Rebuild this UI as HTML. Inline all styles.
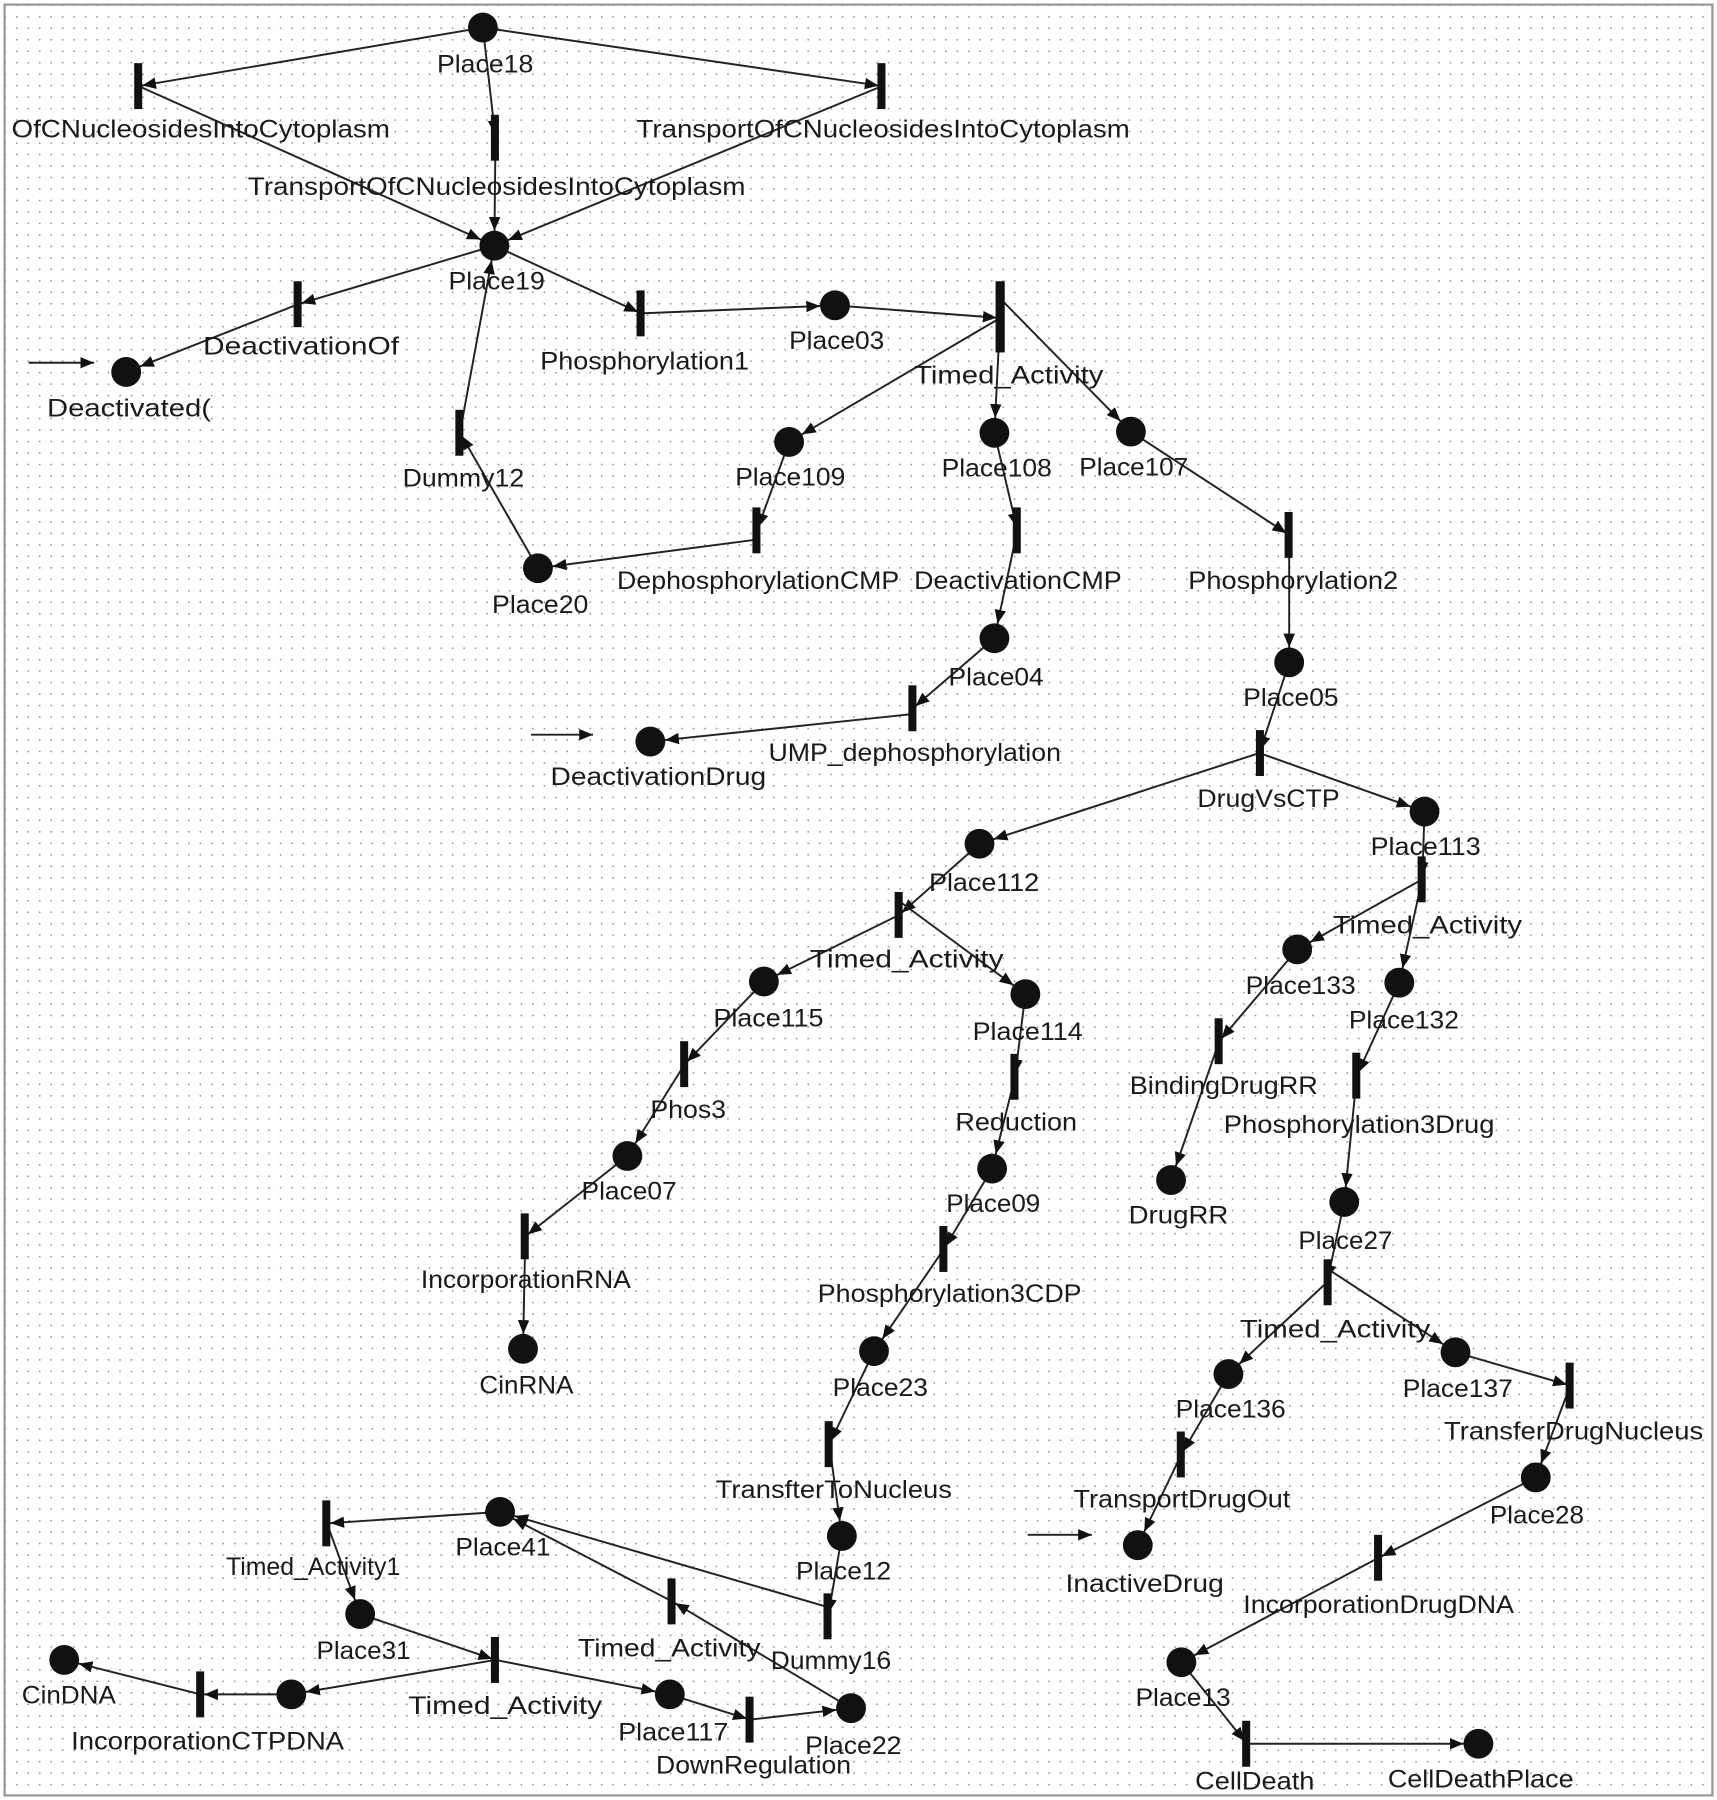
<!DOCTYPE html>
<html><head><meta charset="utf-8"><style>
html,body{margin:0;padding:0;background:#fff;}
svg{display:block}
text{font-family:"Liberation Sans",sans-serif;font-size:22px;fill:#1a1a1a}
</style></head><body>
<svg width="1717" height="1800" viewBox="0 0 1497 1568" preserveAspectRatio="none" xmlns="http://www.w3.org/2000/svg">
<defs>
<pattern id="dots" width="10" height="10" patternUnits="userSpaceOnUse"><rect x="4" y="4" width="1.3" height="1.3" fill="#888"/></pattern>
<marker id="ap" markerUnits="userSpaceOnUse" markerWidth="14" markerHeight="12" refX="25" refY="5" orient="auto"><path d="M0,0 L12,5 L0,10 z" fill="#111"/></marker>
<marker id="at" markerUnits="userSpaceOnUse" markerWidth="14" markerHeight="12" refX="15" refY="5" orient="auto"><path d="M0,0 L12,5 L0,10 z" fill="#111"/></marker>
<marker id="a0" markerUnits="userSpaceOnUse" markerWidth="14" markerHeight="12" refX="12" refY="5" orient="auto"><path d="M0,0 L12,5 L0,10 z" fill="#111"/></marker>
</defs>
<rect x="0" y="0" width="1497" height="1568" fill="#fff"/>
<rect x="4" y="4" width="1489" height="1560" fill="url(#dots)" stroke="#999" stroke-width="2"/>
<g stroke="#222" stroke-width="1.7" fill="none">
<line x1="421" y1="24" x2="121" y2="75" marker-end="url(#at)"/>
<line x1="421" y1="24" x2="769" y2="75" marker-end="url(#at)"/>
<line x1="421" y1="24" x2="432" y2="120" marker-end="url(#at)"/>
<line x1="121" y1="75" x2="431" y2="214" marker-end="url(#ap)"/>
<line x1="769" y1="75" x2="431" y2="214" marker-end="url(#ap)"/>
<line x1="432" y1="120" x2="431" y2="214" marker-end="url(#ap)"/>
<line x1="431" y1="214" x2="260" y2="265" marker-end="url(#at)"/>
<line x1="260" y1="265" x2="110" y2="324" marker-end="url(#ap)"/>
<line x1="431" y1="214" x2="559" y2="273" marker-end="url(#at)"/>
<line x1="559" y1="273" x2="728" y2="266" marker-end="url(#ap)"/>
<line x1="728" y1="266" x2="872" y2="277" marker-end="url(#at)"/>
<line x1="872" y1="277" x2="688" y2="385" marker-end="url(#ap)"/>
<line x1="872" y1="277" x2="867" y2="377" marker-end="url(#ap)"/>
<line x1="872" y1="260" x2="986" y2="376" marker-end="url(#ap)"/>
<line x1="469" y1="495" x2="401" y2="377" marker-end="url(#at)"/>
<line x1="401" y1="377" x2="431" y2="214" marker-end="url(#ap)"/>
<line x1="688" y1="385" x2="660" y2="462" marker-end="url(#at)"/>
<line x1="660" y1="470" x2="469" y2="495" marker-end="url(#ap)"/>
<line x1="867" y1="377" x2="887" y2="462" marker-end="url(#at)"/>
<line x1="887" y1="462" x2="867" y2="556" marker-end="url(#ap)"/>
<line x1="867" y1="556" x2="796" y2="617" marker-end="url(#at)"/>
<line x1="796" y1="622" x2="567" y2="646" marker-end="url(#ap)"/>
<line x1="986" y1="376" x2="1124" y2="466" marker-end="url(#at)"/>
<line x1="1124" y1="466" x2="1124" y2="577" marker-end="url(#ap)"/>
<line x1="1124" y1="577" x2="1098" y2="656" marker-end="url(#at)"/>
<line x1="1098" y1="656" x2="854" y2="735" marker-end="url(#ap)"/>
<line x1="1098" y1="656" x2="1242" y2="707" marker-end="url(#ap)"/>
<line x1="1242" y1="707" x2="1240" y2="766" marker-end="url(#at)"/>
<line x1="1240" y1="766" x2="1131" y2="827" marker-end="url(#ap)"/>
<line x1="1240" y1="766" x2="1220" y2="856" marker-end="url(#ap)"/>
<line x1="854" y1="735" x2="784" y2="797" marker-end="url(#at)"/>
<line x1="784" y1="797" x2="666" y2="855" marker-end="url(#ap)"/>
<line x1="784" y1="785" x2="894" y2="866" marker-end="url(#ap)"/>
<line x1="666" y1="855" x2="597" y2="927" marker-end="url(#at)"/>
<line x1="597" y1="927" x2="547" y2="1007" marker-end="url(#ap)"/>
<line x1="547" y1="1007" x2="458" y2="1077" marker-end="url(#at)"/>
<line x1="458" y1="1077" x2="456" y2="1175" marker-end="url(#ap)"/>
<line x1="894" y1="866" x2="885" y2="938" marker-end="url(#at)"/>
<line x1="885" y1="938" x2="865" y2="1018" marker-end="url(#ap)"/>
<line x1="865" y1="1018" x2="823" y2="1088" marker-end="url(#at)"/>
<line x1="823" y1="1088" x2="762" y2="1177" marker-end="url(#ap)"/>
<line x1="762" y1="1177" x2="723" y2="1258" marker-end="url(#at)"/>
<line x1="723" y1="1258" x2="734" y2="1338" marker-end="url(#ap)"/>
<line x1="734" y1="1338" x2="722" y2="1408" marker-end="url(#at)"/>
<line x1="722" y1="1400" x2="436" y2="1317" marker-end="url(#ap)"/>
<line x1="1131" y1="827" x2="1063" y2="907" marker-end="url(#at)"/>
<line x1="1063" y1="907" x2="1021" y2="1028" marker-end="url(#ap)"/>
<line x1="1220" y1="856" x2="1183" y2="937" marker-end="url(#at)"/>
<line x1="1183" y1="937" x2="1172" y2="1047" marker-end="url(#ap)"/>
<line x1="1172" y1="1047" x2="1157" y2="1117" marker-end="url(#at)"/>
<line x1="1157" y1="1117" x2="1071" y2="1197" marker-end="url(#ap)"/>
<line x1="1157" y1="1105" x2="1269" y2="1178" marker-end="url(#ap)"/>
<line x1="1269" y1="1178" x2="1369" y2="1207" marker-end="url(#at)"/>
<line x1="1369" y1="1207" x2="1339" y2="1287" marker-end="url(#ap)"/>
<line x1="1339" y1="1287" x2="1202" y2="1357" marker-end="url(#at)"/>
<line x1="1202" y1="1357" x2="1030" y2="1448" marker-end="url(#ap)"/>
<line x1="1030" y1="1448" x2="1087" y2="1519" marker-end="url(#at)"/>
<line x1="1087" y1="1519" x2="1289" y2="1519" marker-end="url(#ap)"/>
<line x1="1071" y1="1197" x2="1030" y2="1267" marker-end="url(#at)"/>
<line x1="1030" y1="1267" x2="992" y2="1346" marker-end="url(#ap)"/>
<line x1="436" y1="1317" x2="285" y2="1327" marker-end="url(#at)"/>
<line x1="285" y1="1327" x2="314" y2="1406" marker-end="url(#ap)"/>
<line x1="314" y1="1406" x2="432" y2="1446" marker-end="url(#at)"/>
<line x1="432" y1="1446" x2="254" y2="1476" marker-end="url(#ap)"/>
<line x1="432" y1="1446" x2="584" y2="1476" marker-end="url(#ap)"/>
<line x1="254" y1="1476" x2="175" y2="1476" marker-end="url(#at)"/>
<line x1="175" y1="1476" x2="56" y2="1446" marker-end="url(#ap)"/>
<line x1="584" y1="1476" x2="654" y2="1498" marker-end="url(#at)"/>
<line x1="654" y1="1498" x2="742" y2="1488" marker-end="url(#ap)"/>
<line x1="742" y1="1488" x2="586" y2="1395" marker-end="url(#at)"/>
<line x1="586" y1="1395" x2="436" y2="1317" marker-end="url(#ap)"/>
<line x1="25" y1="316" x2="82" y2="316" marker-end="url(#a0)"/>
<line x1="463" y1="640" x2="517" y2="640" marker-end="url(#a0)"/>
<line x1="896" y1="1337" x2="952" y2="1337" marker-end="url(#a0)"/>
</g>
<g fill="#111">
<circle cx="421" cy="24" r="13"/><circle cx="431" cy="214" r="13"/><circle cx="110" cy="324" r="13"/>
<circle cx="728" cy="266" r="13"/><circle cx="688" cy="385" r="13"/><circle cx="867" cy="377" r="13"/>
<circle cx="986" cy="376" r="13"/><circle cx="469" cy="495" r="13"/><circle cx="867" cy="556" r="13"/>
<circle cx="1124" cy="577" r="13"/><circle cx="567" cy="646" r="13"/><circle cx="1242" cy="707" r="13"/>
<circle cx="854" cy="735" r="13"/><circle cx="666" cy="855" r="13"/><circle cx="894" cy="866" r="13"/>
<circle cx="1131" cy="827" r="13"/><circle cx="1220" cy="856" r="13"/><circle cx="547" cy="1007" r="13"/>
<circle cx="865" cy="1018" r="13"/><circle cx="1021" cy="1028" r="13"/><circle cx="1172" cy="1047" r="13"/>
<circle cx="456" cy="1175" r="13"/><circle cx="762" cy="1177" r="13"/><circle cx="1071" cy="1197" r="13"/>
<circle cx="1269" cy="1178" r="13"/><circle cx="1339" cy="1287" r="13"/><circle cx="436" cy="1317" r="13"/>
<circle cx="734" cy="1338" r="13"/><circle cx="992" cy="1346" r="13"/><circle cx="314" cy="1406" r="13"/>
<circle cx="56" cy="1446" r="13"/><circle cx="1030" cy="1448" r="13"/><circle cx="254" cy="1476" r="13"/>
<circle cx="584" cy="1476" r="13"/><circle cx="742" cy="1488" r="13"/><circle cx="1289" cy="1519" r="13"/>
<rect x="117" y="55" width="7" height="40"/><rect x="765" y="55" width="7" height="40"/><rect x="428" y="100" width="7" height="40"/>
<rect x="256" y="245" width="7" height="40"/><rect x="555" y="253" width="7" height="40"/><rect x="868" y="245" width="8" height="62"/>
<rect x="397" y="357" width="7" height="40"/><rect x="656" y="442" width="7" height="40"/><rect x="883" y="442" width="7" height="40"/>
<rect x="1120" y="446" width="7" height="40"/><rect x="792" y="597" width="7" height="40"/><rect x="1095" y="636" width="7" height="40"/>
<rect x="1236" y="746" width="7" height="40"/><rect x="780" y="777" width="7" height="40"/><rect x="593" y="907" width="7" height="40"/>
<rect x="881" y="918" width="7" height="40"/><rect x="1059" y="887" width="7" height="40"/><rect x="1179" y="917" width="7" height="40"/>
<rect x="454" y="1057" width="7" height="40"/><rect x="819" y="1068" width="7" height="40"/><rect x="1154" y="1097" width="7" height="40"/>
<rect x="1365" y="1187" width="7" height="40"/><rect x="1026" y="1247" width="7" height="40"/><rect x="719" y="1238" width="7" height="40"/>
<rect x="281" y="1307" width="7" height="40"/><rect x="718" y="1388" width="7" height="40"/><rect x="582" y="1375" width="7" height="40"/>
<rect x="1198" y="1337" width="7" height="40"/><rect x="428" y="1426" width="7" height="40"/><rect x="171" y="1456" width="7" height="40"/>
<rect x="650" y="1478" width="7" height="40"/><rect x="1083" y="1499" width="7" height="40"/>
</g>
<g>
<text x="381" y="63" textLength="84" lengthAdjust="spacingAndGlyphs">Place18</text>
<text x="10" y="120" textLength="330" lengthAdjust="spacingAndGlyphs">OfCNucleosidesIntoCytoplasm</text>
<text x="555" y="120" textLength="430" lengthAdjust="spacingAndGlyphs">TransportOfCNucleosidesIntoCytoplasm</text>
<text x="216" y="170" textLength="434" lengthAdjust="spacingAndGlyphs">TransportOfCNucleosidesIntoCytoplasm</text>
<text x="391" y="252" textLength="84" lengthAdjust="spacingAndGlyphs">Place19</text>
<text x="177" y="309" textLength="171" lengthAdjust="spacingAndGlyphs">DeactivationOf</text>
<text x="471" y="322" textLength="182" lengthAdjust="spacingAndGlyphs">Phosphorylation1</text>
<text x="688" y="304" textLength="83" lengthAdjust="spacingAndGlyphs">Place03</text>
<text x="797" y="334" textLength="165" lengthAdjust="spacingAndGlyphs">Timed_Activity</text>
<text x="41" y="363" textLength="143" lengthAdjust="spacingAndGlyphs">Deactivated(</text>
<text x="351" y="424" textLength="106" lengthAdjust="spacingAndGlyphs">Dummy12</text>
<text x="641" y="423" textLength="96" lengthAdjust="spacingAndGlyphs">Place109</text>
<text x="821" y="415" textLength="96" lengthAdjust="spacingAndGlyphs">Place108</text>
<text x="941" y="414" textLength="95" lengthAdjust="spacingAndGlyphs">Place107</text>
<text x="538" y="513" textLength="246" lengthAdjust="spacingAndGlyphs">DephosphorylationCMP</text>
<text x="797" y="513" textLength="181" lengthAdjust="spacingAndGlyphs">DeactivationCMP</text>
<text x="1036" y="513" textLength="183" lengthAdjust="spacingAndGlyphs">Phosphorylation2</text>
<text x="429" y="534" textLength="84" lengthAdjust="spacingAndGlyphs">Place20</text>
<text x="827" y="597" textLength="83" lengthAdjust="spacingAndGlyphs">Place04</text>
<text x="1084" y="615" textLength="83" lengthAdjust="spacingAndGlyphs">Place05</text>
<text x="670" y="663" textLength="255" lengthAdjust="spacingAndGlyphs">UMP_dephosphorylation</text>
<text x="480" y="684" textLength="188" lengthAdjust="spacingAndGlyphs">DeactivationDrug</text>
<text x="1044" y="703" textLength="124" lengthAdjust="spacingAndGlyphs">DrugVsCTP</text>
<text x="1195" y="745" textLength="96" lengthAdjust="spacingAndGlyphs">Place113</text>
<text x="810" y="776" textLength="96" lengthAdjust="spacingAndGlyphs">Place112</text>
<text x="1162" y="813" textLength="165" lengthAdjust="spacingAndGlyphs">Timed_Activity</text>
<text x="706" y="843" textLength="169" lengthAdjust="spacingAndGlyphs">Timed_Activity</text>
<text x="1086" y="866" textLength="96" lengthAdjust="spacingAndGlyphs">Place133</text>
<text x="1176" y="896" textLength="96" lengthAdjust="spacingAndGlyphs">Place132</text>
<text x="622" y="894" textLength="96" lengthAdjust="spacingAndGlyphs">Place115</text>
<text x="848" y="906" textLength="96" lengthAdjust="spacingAndGlyphs">Place114</text>
<text x="985" y="953" textLength="164" lengthAdjust="spacingAndGlyphs">BindingDrugRR</text>
<text x="567" y="974" textLength="66" lengthAdjust="spacingAndGlyphs">Phos3</text>
<text x="833" y="985" textLength="106" lengthAdjust="spacingAndGlyphs">Reduction</text>
<text x="1067" y="987" textLength="236" lengthAdjust="spacingAndGlyphs">Phosphorylation3Drug</text>
<text x="507" y="1045" textLength="83" lengthAdjust="spacingAndGlyphs">Place07</text>
<text x="825" y="1056" textLength="82" lengthAdjust="spacingAndGlyphs">Place09</text>
<text x="984" y="1066" textLength="87" lengthAdjust="spacingAndGlyphs">DrugRR</text>
<text x="1132" y="1088" textLength="82" lengthAdjust="spacingAndGlyphs">Place27</text>
<text x="367" y="1122" textLength="183" lengthAdjust="spacingAndGlyphs">IncorporationRNA</text>
<text x="713" y="1134" textLength="230" lengthAdjust="spacingAndGlyphs">Phosphorylation3CDP</text>
<text x="1081" y="1165" textLength="166" lengthAdjust="spacingAndGlyphs">Timed_Activity</text>
<text x="418" y="1214" textLength="82" lengthAdjust="spacingAndGlyphs">CinRNA</text>
<text x="726" y="1216" textLength="83" lengthAdjust="spacingAndGlyphs">Place23</text>
<text x="1025" y="1235" textLength="96" lengthAdjust="spacingAndGlyphs">Place136</text>
<text x="1223" y="1217" textLength="96" lengthAdjust="spacingAndGlyphs">Place137</text>
<text x="1259" y="1254" textLength="226" lengthAdjust="spacingAndGlyphs">TransferDrugNucleus</text>
<text x="624" y="1305" textLength="206" lengthAdjust="spacingAndGlyphs">TransfterToNucleus</text>
<text x="936" y="1313" textLength="189" lengthAdjust="spacingAndGlyphs">TransportDrugOut</text>
<text x="1299" y="1327" textLength="82" lengthAdjust="spacingAndGlyphs">Place28</text>
<text x="397" y="1355" textLength="83" lengthAdjust="spacingAndGlyphs">Place41</text>
<text x="694" y="1376" textLength="83" lengthAdjust="spacingAndGlyphs">Place12</text>
<text x="197" y="1372" textLength="152" lengthAdjust="spacingAndGlyphs">Timed_Activity1</text>
<text x="929" y="1387" textLength="138" lengthAdjust="spacingAndGlyphs">InactiveDrug</text>
<text x="1084" y="1405" textLength="236" lengthAdjust="spacingAndGlyphs">IncorporationDrugDNA</text>
<text x="276" y="1445" textLength="82" lengthAdjust="spacingAndGlyphs">Place31</text>
<text x="504" y="1443" textLength="159" lengthAdjust="spacingAndGlyphs">Timed_Activity</text>
<text x="672" y="1454" textLength="105" lengthAdjust="spacingAndGlyphs">Dummy16</text>
<text x="19" y="1484" textLength="82" lengthAdjust="spacingAndGlyphs">CinDNA</text>
<text x="990" y="1486" textLength="83" lengthAdjust="spacingAndGlyphs">Place13</text>
<text x="356" y="1493" textLength="169" lengthAdjust="spacingAndGlyphs">Timed_Activity</text>
<text x="62" y="1524" textLength="238" lengthAdjust="spacingAndGlyphs">IncorporationCTPDNA</text>
<text x="539" y="1516" textLength="96" lengthAdjust="spacingAndGlyphs">Place117</text>
<text x="702" y="1528" textLength="84" lengthAdjust="spacingAndGlyphs">Place22</text>
<text x="572" y="1545" textLength="170" lengthAdjust="spacingAndGlyphs">DownRegulation</text>
<text x="1042" y="1559" textLength="104" lengthAdjust="spacingAndGlyphs">CellDeath</text>
<text x="1210" y="1557" textLength="162" lengthAdjust="spacingAndGlyphs">CellDeathPlace</text>
</g>
</svg>
</body></html>
